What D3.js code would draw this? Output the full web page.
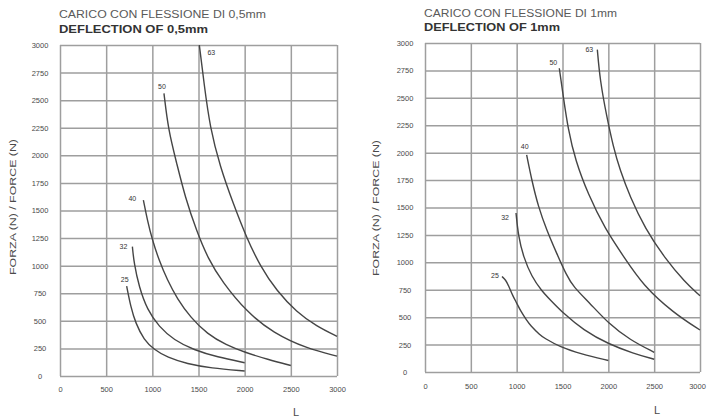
<!DOCTYPE html>
<html><head><meta charset="utf-8">
<script src="https://cdn.jsdelivr.net/npm/d3@7"></script>
<style>
html,body{margin:0;padding:0;background:#fff;}
svg{display:block;font-family:"Liberation Sans",Arial,sans-serif;}
</style></head>
<body>
<svg id="c" width="707" height="418"></svg>
<script>
// ---------- data ----------
const xTicks = [0, 500, 1000, 1500, 2000, 2500, 3000];
const yTicks = [0, 250, 500, 750, 1000, 1250, 1500, 1750, 2000, 2250, 2500, 2750, 3000];
const xTickLabels = ["0", "500", "1000", "1500", "2000", "2500", "3000"];

const titleLeft1 = "CARICO CON FLESSIONE DI 0,5mm";
const titleLeft2 = "DEFLECTION OF 0,5mm";
const titleRight1 = "CARICO CON FLESSIONE DI 1mm";
const titleRight2 = "DEFLECTION OF 1mm";
const yAxisTitle = "FORZA (N) / FORCE (N)";
const xAxisTitle = "L";

// deflection 0,5 mm  [L, F]
const half25 = [[722,815],[766,628],[820,477],[910,326],[1018,240],[1162,168],[1378,110],[1631,72],[2000,45]];
const half32 = [[784,1172],[802,1021],[856,809],[946,598],[1072,447],[1234,326],[1450,236],[1703,172],[2000,120]];
const half40 = [[903,1595],[946,1413],[1000,1232],[1072,1051],[1162,870],[1270,700],[1414,530],[1595,380],[1800,280],[2000,215],[2250,150],[2500,95]];
const half50 = [[1126,2562],[1173,2230],[1264,1928],[1354,1625],[1481,1310],[1606,1060],[1751,860],[2022,580],[2310,390],[2672,250],[3000,180]];
const half63 = [[1509,3000],[1560,2650],[1625,2250],[1733,1900],[1877,1560],[2022,1250],[2166,1000],[2347,770],[2563,580],[2780,450],[3000,360]];

// deflection 1 mm  [L, F]
const one25 = [[840,870],[880,840],[910,790],[960,690],[1000,630],[1040,560],[1110,470],[1150,425],[1255,337],[1300,310],[1473,228],[1700,165],[2000,105]];
const one32 = [[993,1450],[1018,1240],[1073,1051],[1164,869],[1273,740],[1364,660],[1509,535],[1727,383],[2000,255],[2273,170],[2500,116]];
const one40 = [[1109,1979],[1164,1751],[1236,1507],[1327,1295],[1436,1082],[1545,880],[1618,778],[1800,626],[2000,444],[2236,292],[2500,180]];
const one50 = [[1465,2770],[1509,2510],[1560,2220],[1640,1930],[1780,1620],[1960,1310],[2180,1036],[2380,790],[2709,540],[3000,383]];
const one63 = [[1880,2940],[1909,2663],[1982,2330],[2054,2054],[2127,1842],[2236,1600],[2400,1310],[2618,1036],[2836,820],[3000,695]];

const curveNames = ["25", "32", "40", "50", "63"];

// ---------- drawing ----------
const svg = d3.select("#c");
const gridColor = "#9e9e9e";
const curveColor = "#454545";
const textColor = "#4a4a4a";

function panel(cfg) {
  const x = d3.scaleLinear().domain([0, 3000]).range(cfg.xr);
  const y = d3.scaleLinear().domain([0, 3000]).range(cfg.yr);
  const g = svg.append("g");
  const pw = cfg.xr[1] - cfg.xr[0], ph = cfg.yr[0] - cfg.yr[1];

  // horizontal grid + y tick labels
  const ya = g.append("g").attr("transform", `translate(${cfg.xr[0]},0)`)
    .call(d3.axisLeft(y).tickValues(yTicks).tickSize(-pw).tickFormat(d3.format("d")));
  ya.select(".domain").remove();
  ya.selectAll(".tick line").attr("stroke", gridColor).attr("stroke-width", 1.5);
  ya.selectAll(".tick text").attr("x", -20).attr("text-anchor", "middle")
    .attr("fill", textColor).style("font-size", "7.5px").attr("dy", "0.33em");

  // vertical grid + x tick labels
  const xa = g.append("g").attr("transform", `translate(0,${cfg.yr[0]})`)
    .call(d3.axisBottom(x).tickValues(xTicks).tickSize(-ph).tickFormat((d, i) => xTickLabels[i]));
  xa.select(".domain").remove();
  xa.selectAll(".tick line").attr("stroke", gridColor).attr("stroke-width", 1.5);
  xa.selectAll(".tick text").attr("y", cfg.xLabelDy).attr("dy", "0.33em")
    .attr("fill", textColor).style("font-size", "7.5px")
    .attr("x", (d, i) => i === xTicks.length - 1 ? cfg.lastTickShift : 0);

  // curves
  const line = d3.line().x(d => x(d[0])).y(d => y(d[1])).curve(d3.curveBasis);
  cfg.series.forEach((s, i) => {
    g.append("path").datum(s).attr("d", line).attr("fill", "none")
      .attr("stroke", curveColor).attr("stroke-width", 1.4);
    const o = cfg.labelOffsets[i];
    g.append("text").attr("x", x(s[0][0]) + o[0]).attr("y", y(s[0][1]) + o[1])
      .attr("text-anchor", "middle").attr("fill", "#333").style("font-size", "7px")
      .text(curveNames[i]);
  });

  // titles
  g.append("text").attr("x", cfg.xr[0] - 1).attr("y", cfg.t1y).text(cfg.t1)
    .attr("fill", "#5a5a5a").style("font-size", "10px")
    .attr("textLength", cfg.t1w).attr("lengthAdjust", "spacingAndGlyphs");
  g.append("text").attr("x", cfg.xr[0] - 1).attr("y", cfg.t2y).text(cfg.t2)
    .attr("fill", "#333").style("font-size", "10px").style("font-weight", "bold")
    .attr("textLength", cfg.t2w).attr("lengthAdjust", "spacingAndGlyphs");

  // axis titles
  g.append("text").attr("transform", `translate(${cfg.yTitleX},${cfg.yTitleY}) rotate(-90)`)
    .attr("text-anchor", "middle").attr("dy", "0.35em").attr("fill", textColor)
    .style("font-size", "9px").attr("textLength", 136).attr("lengthAdjust", "spacingAndGlyphs")
    .text(yAxisTitle);
  g.append("text").attr("x", cfg.lx).attr("y", cfg.ly).attr("text-anchor", "middle")
    .attr("fill", textColor).style("font-size", "11px").text(xAxisTitle);
}

panel({
  xr: [60, 337], yr: [376, 45], xLabelDy: 13.3, lastTickShift: 0,
  series: [half25, half32, half40, half50, half63],
  labelOffsets: [[-2, -4], [-9, 2], [-11, 1], [-2, -4], [12, 10]],
  t1: titleLeft1, t2: titleLeft2, t1y: 18, t2y: 33, t1w: 207, t2w: 149,
  yTitleX: 13, yTitleY: 207, lx: 296, ly: 416
});

panel({
  xr: [425, 700], yr: [372, 43], xLabelDy: 14.7, lastTickShift: -3,
  series: [one25, one32, one40, one50, one63],
  labelOffsets: [[-7, 1], [-11, 7], [-2, -6], [-6, -3], [-8, 2]],
  t1: titleRight1, t2: titleRight2, t1y: 17, t2y: 31, t1w: 193, t2w: 136,
  yTitleX: 376, yTitleY: 208, lx: 657, ly: 414
});
</script>
</body></html>
